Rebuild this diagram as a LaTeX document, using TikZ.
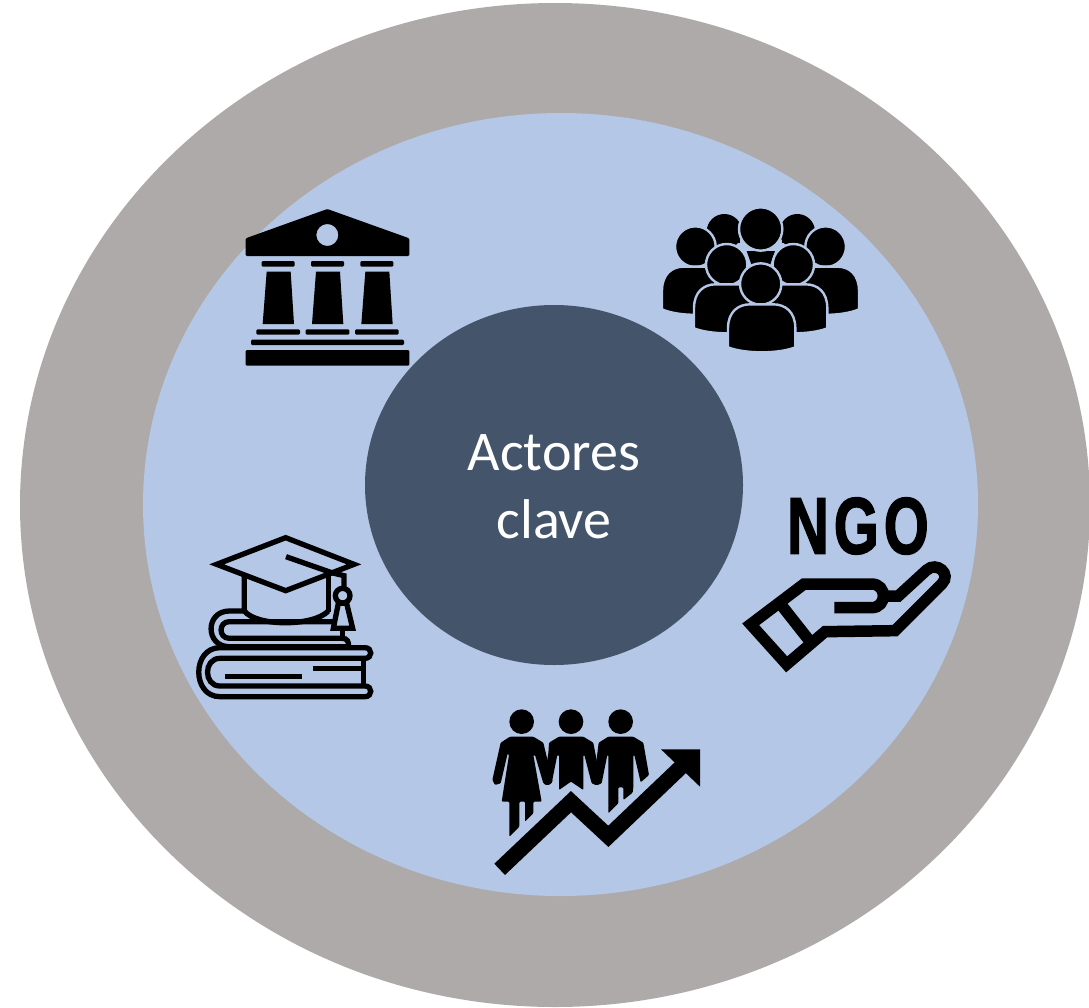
\documentclass[tikz,border=0pt]{standalone}
\usepackage{fontspec}
\setmainfont{Carlito}
\newfontfamily\ngofont[LetterSpace=9,FakeBold=2.2]{Liberation Sans Bold}
\definecolor{ringgray}{HTML}{AEAAAA}
\definecolor{innerblue}{HTML}{B4C7E7}
\definecolor{coreblue}{HTML}{44546A}
\tikzset{
  zoomed/.style={x=.33333pt,y=-.33333pt},
  solidicon/.style={fill=black,draw=none,rounded corners=1.2pt},
  lineicon/.style={draw=black,fill=none,line join=miter},
  person/.style={fill=black,draw=innerblue,line width=2.4pt},
}
\newcommand{\crowdbody}[5]{% cx, half width, top, side bottom, centre bottom (zoom units)
  \path[person] ({#1-#2},#4) -- ({#1-#2},{#3+72})
    .. controls ({#1-#2},{#3+22}) and ({#1-70},#3) .. ({#1-35},#3) -- ({#1+35},#3)
    .. controls ({#1+70},#3) and ({#1+#2},{#3+22}) .. ({#1+#2},{#3+72})
    -- ({#1+#2},#4) .. controls ({#1+50},{#5+2}) and ({#1-50},{#5+2}) .. cycle;}
\begin{document}
\begin{tikzpicture}[x=1pt,y=-1pt]
\useasboundingbox (0,0) rectangle (1089,1007);
\fill[ringgray] (555,505) ellipse [x radius=535pt,y radius=502pt];
\fill[innerblue] (560.5,504.5) ellipse [x radius=417.5pt,y radius=391.5pt];
\fill[coreblue] (554,485) ellipse [x radius=189pt,y radius=180pt];
\node[text=white,font=\fontsize{56}{68}\selectfont,align=center,inner sep=0pt] (core) at (554,487) {Actores\\clave};

% institution
\begin{scope}[shift={(190,190)},zoomed]
  \path[solidicon,even odd rule] (412,57) -- (658,145) -- (658,198) -- (167,198) -- (167,145) -- cycle
     (445,135) arc[start angle=0,end angle=360,radius=33];
  \foreach \dx in {0,148,296}{
    \path[solidicon] ({215+\dx},213) rectangle ({314+\dx},230);
    \path[fill=black] ({230+\dx},245) -- ({302+\dx},245) -- ({312+\dx},402) -- ({218+\dx},402) -- cycle;
    \path[solidicon] ({199+\dx},418) rectangle ({330+\dx},434);
  }
  \path[solidicon] (183,449) rectangle (642,465);
  \path[solidicon] (167,480) rectangle (658,527);
\end{scope}

% crowd
\begin{scope}[shift={(640,190)},zoomed]
  \fill (225,160) -- (300,160) -- (300,120) -- (225,120) -- cycle;
  \fill (425,160) -- (495,160) -- (495,120) -- (425,120) -- cycle;
  \fill (320,183) -- (405,183) -- (385,240) -- (340,240) -- cycle;
  \fill (253,125) circle[radius=53];
  \fill (472,125) circle[radius=53];
  \path[person] (362,117) circle[radius=65];
  \path[person] (166,170) circle[radius=61];
  \path[person] (557,170) circle[radius=61];
  \crowdbody{166}{100}{230}{358}{378}
  \crowdbody{557}{100}{230}{358}{378}
  \path[person] (260,224) circle[radius=62];
  \path[person] (460,224) circle[radius=62];
  \crowdbody{262}{100}{283}{415}{433}
  \crowdbody{462}{100}{283}{415}{433}
  \path[person] (362,282) circle[radius=62];
  \crowdbody{365}{101}{343}{472}{490}
\end{scope}

% NGO
\node[font=\ngofont\fontsize{80}{80}\selectfont,inner sep=0pt,xscale=.72,transform shape] (ngo) at (858,526) {NGO};
\begin{scope}[shift={(730,480)},zoomed]
  \draw[lineicon,line width=11.5pt] (313,383) -- (425,383)
     .. controls (472,383) and (472,312) .. (425,312) -- (222,312) -- (62,433) -- (170,553) -- (285,455) -- (495,452) -- (636,311)
     .. controls (665,282) and (620,243) .. (590,270) -- (505,348) -- (470,348);
  \draw[lineicon,line width=11.5pt] (150,370) -- (235,478);
\end{scope}

% graduation
\begin{scope}[shift={(190,525)},zoomed,lineicon,line width=5.3pt]
  \draw (80,118) -- (287,38) -- (492,118) -- (287,197) -- cycle;
  \draw (288,95) -- (425,143) -- (462,152) -- (462,190);
  \draw (415,150) -- (415,262);
  \draw (163,150) -- (163,258) .. controls (200,305) and (370,305) .. (415,258);
  \draw (458,212) circle[radius=22];
  \draw (445,235) -- (470,235) -- (488,310) -- (430,310) -- cycle;
  \draw (163,258) -- (118,258) .. controls (45,258) and (45,365) .. (118,365) -- (475,365)
        .. controls (478,350) and (470,340) .. (458,340) -- (118,340)
        .. controls (85,340) and (85,290) .. (118,290) -- (430,290);
  \draw (458,310) -- (458,340);
  \draw (90,368) -- (525,368) .. controls (548,368) and (548,400) .. (525,400) -- (90,400)
        .. controls (40,400) and (40,483) .. (90,483) -- (525,483)
        .. controls (548,483) and (548,515) .. (525,515) -- (90,515)
        .. controls (5,515) and (5,368) .. (90,368);
  \draw (520,400) -- (520,483);
  \draw (368,430) -- (520,430);
  \draw (106,455) -- (335,455);
\end{scope}

% community growth
\begin{scope}[shift={(480,700)},zoomed]
  \foreach \hx in {125,273,422} \fill (\hx,65) circle[radius=37];
  \fill[rounded corners=1pt] (90,110) -- (160,110) -- (190,128) -- (218,245) -- (205,256) -- (190,250)
     -- (165,165) -- (160,165) -- (185,305) -- (160,305) -- (160,340) -- (135,365) -- (135,305) -- (118,305)
     -- (118,380) -- (88,410) -- (88,305) -- (65,305) -- (87,165) -- (83,160) -- (62,250) -- (45,255) -- (37,240)
     -- (62,128) -- cycle;
  \fill[rounded corners=1pt] (237,110) -- (310,110) -- (340,128) -- (362,245) -- (350,256) -- (335,250)
     -- (313,165) -- (310,165) -- (310,270) -- (273,245) -- (237,270) -- (237,165) -- (232,165)
     -- (215,250) -- (200,256) -- (190,250) -- (205,160) -- (207,128) -- cycle;
  \fill[rounded corners=1pt] (385,110) -- (460,110) -- (490,128) -- (507,225) -- (482,247) -- (463,165)
     -- (460,165) -- (460,262) -- (458,278) -- (430,300) -- (430,262) -- (415,262) -- (415,310) -- (385,340)
     -- (385,165) -- (382,165) -- (365,250) -- (350,256) -- (340,250) -- (352,160) -- (356,128) -- cycle;
  \draw[line width=15.5pt,line join=miter] (59,508) -- (273,305) -- (385,409) -- (622,183);
  \fill (543,148) -- (660,148) -- (660,260) -- cycle;
\end{scope}
\end{tikzpicture}
\end{document}
